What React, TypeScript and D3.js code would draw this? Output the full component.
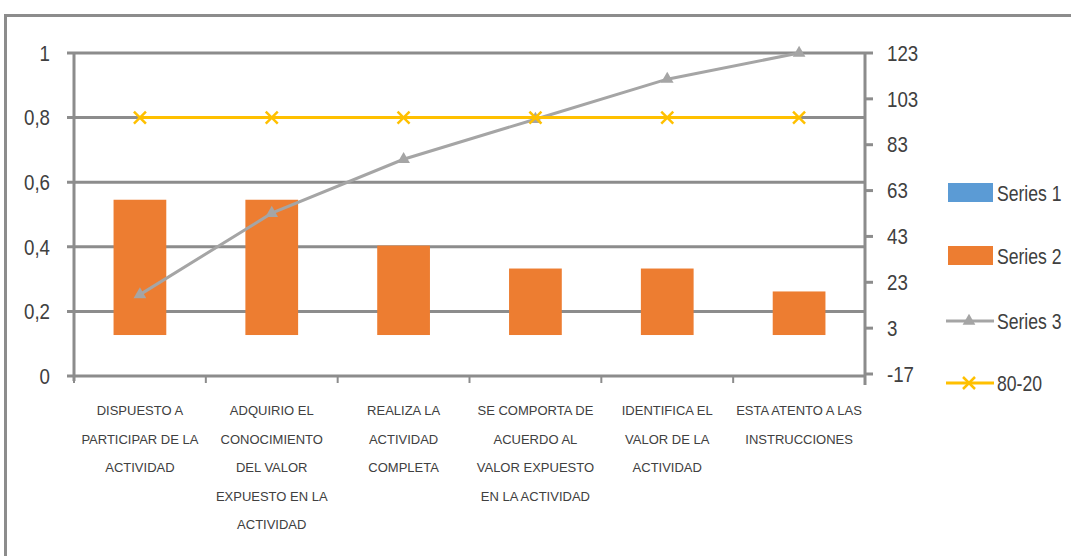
import React from "react";
import * as d3 from "d3";

const categories: string[][] = [
  ["DISPUESTO A", "PARTICIPAR DE LA", "ACTIVIDAD"],
  ["ADQUIRIO EL", "CONOCIMIENTO", "DEL VALOR", "EXPUESTO EN LA", "ACTIVIDAD"],
  ["REALIZA LA", "ACTIVIDAD", "COMPLETA"],
  ["SE COMPORTA DE", "ACUERDO AL", "VALOR EXPUESTO", "EN LA ACTIVIDAD"],
  ["IDENTIFICA EL", "VALOR DE LA", "ACTIVIDAD"],
  ["ESTA ATENTO A LAS", "INSTRUCCIONES"],
];
const series2: number[] = [59, 59, 39, 29, 29, 19];
const series3: number[] = [0.252, 0.504, 0.671, 0.795, 0.919, 1.0];
const pareto8020: number[] = [0.8, 0.8, 0.8, 0.8, 0.8, 0.8];
const leftTicks: number[] = [0, 0.2, 0.4, 0.6, 0.8, 1];
const rightTicks: number[] = [-17, 3, 23, 43, 63, 83, 103, 123];
const legendItems: string[] = ["Series 1", "Series 2", "Series 3", "80-20"];

const W = 1071;
const H = 556;
const plotLeft = 74;
const plotRight = 865;
const plotTop = 53;
const plotBottom = 376;

const FONT = "'Liberation Sans', 'DejaVu Sans', sans-serif";
const GRID = "#8c8c8c";
const TEXT = "#404040";

export default function App() {
  const x = d3
    .scaleBand<number>()
    .domain(d3.range(categories.length))
    .range([plotLeft, plotRight])
    .paddingInner(0)
    .paddingOuter(0);
  const yL = d3.scaleLinear().domain([0, 1]).range([plotBottom, plotTop]);
  const yR = d3.scaleLinear().domain([-17, 123]).range([plotBottom - 2, plotTop]);
  const bw = x.bandwidth() * 0.4;
  const cx = (i: number) => (x(i) as number) + x.bandwidth() / 2;

  const line3 = d3
    .line<number>()
    .x((_, i) => cx(i))
    .y((d) => yL(d));
  const line8020 = d3
    .line<number>()
    .x((_, i) => cx(i))
    .y((d) => yL(d));

  const tri = d3.symbol().type(d3.symbolTriangle).size(70)() as string;
  const xMark = (px: number, py: number, s: number, key: string) => (
    <g key={key} stroke="#FFC000" strokeWidth={2.5}>
      <line x1={px - s} y1={py - s} x2={px + s} y2={py + s} />
      <line x1={px - s} y1={py + s} x2={px + s} y2={py - s} />
    </g>
  );

  const legX = 948;
  const legY = [193, 256, 321, 383];

  return (
    <svg
      width={W}
      height={H}
      style={{ position: "absolute", left: 0, top: 0, background: "#fff" }}
      fontFamily={FONT}
    >
      <rect x={5.5} y={15.5} width={W + 10} height={H + 10} fill="none" stroke={GRID} strokeWidth={3} />

      {/* gridlines */}
      {leftTicks.map((t) => (
        <g key={"g" + t}>
          <line x1={plotLeft - 7} x2={plotRight} y1={yL(t)} y2={yL(t)} stroke={GRID} strokeWidth={3} />
          <g transform={`translate(50,${yL(t)}) scale(0.85,1)`}>
            <text x={0} y={0} dy="0.35em" textAnchor="end" fontSize={22} fill={TEXT}>
              {String(t).replace(".", ",")}
            </text>
          </g>
        </g>
      ))}
      {/* left axis */}
      <line x1={plotLeft} x2={plotLeft} y1={plotTop} y2={plotBottom + 5} stroke={GRID} strokeWidth={3} />

      {/* right axis */}
      <line x1={plotRight} x2={plotRight} y1={plotTop} y2={plotBottom + 9} stroke={GRID} strokeWidth={3} />
      {rightTicks.map((t) => (
        <g key={"r" + t}>
          <line x1={plotRight} x2={plotRight + 8} y1={yR(t)} y2={yR(t)} stroke={GRID} strokeWidth={3} />
          <g transform={`translate(887,${yR(t)}) scale(0.85,1)`}>
            <text x={0} y={0} dy="0.35em" fontSize={22} fill={TEXT}>
              {t}
            </text>
          </g>
        </g>
      ))}

      {/* category ticks */}
      {d3.range(categories.length + 1).map((i) => {
        const px = i < categories.length ? (x(i) as number) : plotRight;
        return <line key={"ct" + i} x1={px} x2={px} y1={plotBottom} y2={plotBottom + 7} stroke={GRID} strokeWidth={2} />;
      })}

      {/* bars */}
      {series2.map((v, i) => (
        <rect key={"b" + i} x={cx(i) - bw / 2} y={yR(v)} width={bw} height={yR(0) - yR(v)} fill="#ED7D31" />
      ))}

      {/* series 3 */}
      <path d={line3(series3) as string} fill="none" stroke="#A5A5A5" strokeWidth={3} />
      {series3.map((v, i) => (
        <path key={"t" + i} d={tri} transform={`translate(${cx(i)},${yL(v)})`} fill="#A5A5A5" />
      ))}

      {/* 80-20 */}
      <path d={line8020(pareto8020) as string} fill="none" stroke="#FFC000" strokeWidth={3} />
      {pareto8020.map((v, i) => xMark(cx(i), yL(v), 6, "x" + i))}

      {/* category labels */}
      {categories.map((lines, i) => (
        <text key={"c" + i} x={cx(i)} textAnchor="middle" fontSize={13} fill={TEXT}>
          {lines.map((l, j) => (
            <tspan key={j} x={cx(i)} y={415 + j * 28.6}>
              {l}
            </tspan>
          ))}
        </text>
      ))}

      {/* legend */}
      <rect x={legX} y={legY[0] - 10} width={45} height={19} fill="#5B9BD5" />
      <rect x={legX} y={legY[1] - 10} width={45} height={19} fill="#ED7D31" />
      <line x1={legX - 2} x2={legX + 46} y1={legY[2]} y2={legY[2]} stroke="#A5A5A5" strokeWidth={3} />
      <path d={tri} transform={`translate(${legX + 21},${legY[2]})`} fill="#A5A5A5" />
      <line x1={legX - 2} x2={legX + 46} y1={legY[3]} y2={legY[3]} stroke="#FFC000" strokeWidth={3} />
      {xMark(legX + 21, legY[3], 6, "lx")}
      {legendItems.map((t, i) => (
        <g key={"l" + i} transform={`translate(997,${legY[i]}) scale(0.8,1)`}>
          <text x={0} y={0} dy="0.35em" fontSize={22} fill={TEXT}>
            {t}
          </text>
        </g>
      ))}
    </svg>
  );
}
